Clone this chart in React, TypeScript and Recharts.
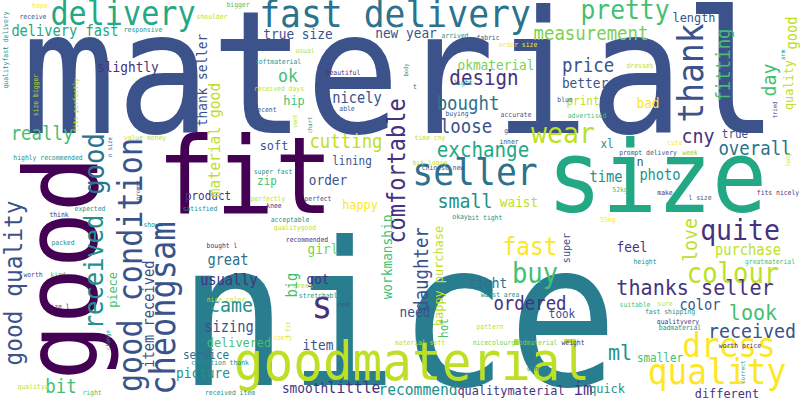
import { Scatter, ScatterChart, XAxis, YAxis } from "recharts";

// viridis-ish palette used by the word cloud
const C = {
  p0: "#440154",
  p1: "#46327e",
  b2: "#3b528b",
  b3: "#365c8d",
  t4: "#2c728e",
  t5: "#21918c",
  g6: "#22a884",
  g7: "#44bf70",
  g8: "#7ad151",
  y9: "#bddf26",
  y10: "#fde725",
};

// horizontal words: [text, centre x, baseline y, font size, colour]
const H_WORDS: [string, number, number, number, string][] = [
  ["material", 400, 133, 172, C.b2],
  ["nice", 398, 385, 200, "#287d8e"],
  ["fit", 245, 213, 107, C.p0],
  ["size", 657, 212, 100, C.g6],
  ["goodmaterial", 412, 380, 54, C.y9],
  ["fast delivery", 395, 27, 38, C.t4],
  ["delivery", 123, 25, 33, C.g6],
  ["quality", 717, 384, 36, C.y10],
  ["dress", 729, 357, 34, C.y10],
  ["pretty", 625, 19, 27, C.g7],
  ["length", 694, 22, 13, C.b2],
  ["measurement", 591, 40, 19, C.g8],
  ["okmaterial", 496, 70, 14, C.g8],
  ["price", 588, 72, 19, C.b2],
  ["design", 484, 85, 21, C.p1],
  ["better", 585, 88, 14, C.b2],
  ["bad", 648, 108, 14, C.y10],
  ["print", 583, 105, 12, C.y9],
  ["bought", 468, 110, 19, C.t4],
  ["loose", 466, 133, 19, C.b2],
  ["wear", 563, 143, 29, C.y9],
  ["cny", 698, 143, 20, C.p1],
  ["true", 735, 138, 12, C.b2],
  ["overall", 755, 155, 19, C.t4],
  ["xl", 607, 148, 12, C.t5],
  ["exchange", 483, 157, 21, C.g6],
  ["n", 640, 166, 13, C.b2],
  ["seller", 475, 185, 38, C.t4],
  ["time", 606, 182, 15, C.t5],
  ["photo", 660, 180, 15, C.t5],
  ["small", 465, 208, 20, C.t5],
  ["waist", 519, 207, 14, C.y9],
  ["need", 415, 317, 14, C.b2],
  ["quite", 740, 240, 29, C.p1],
  ["fast", 530, 255, 25, C.y10],
  ["feel", 632, 252, 14, C.p1],
  ["purchase", 748, 255, 15, C.y9],
  ["buy", 535, 283, 28, C.g7],
  ["colour", 733, 283, 28, C.y9],
  ["tight", 488, 288, 14, C.t4],
  ["thanks seller", 695, 295, 22, C.p1],
  ["ordered", 530, 310, 19, C.p1],
  ["look", 753, 320, 22, C.g7],
  ["color", 700, 310, 15, C.b2],
  ["took", 562, 318, 12, C.b2],
  ["received", 752, 338, 20, C.b2],
  ["ml", 620, 360, 22, C.t5],
  ["smaller", 660, 362, 12, C.g7],
  ["qualitymaterial", 511, 395, 13, C.p1],
  ["quick", 607, 393, 13, C.t5],
  ["im", 583, 395, 17, C.p1],
  ["different", 727, 398, 13, C.p1],
  ["recommend", 418, 395, 16, C.t5],
  ["little", 354, 393, 16, C.p1],
  ["smooth", 305, 393, 14, C.p1],
  ["happy", 360, 209, 13, C.y10],
  ["bit", 61, 393, 19, C.g7],
  ["great", 228, 265, 15, C.t4],
  ["girl", 323, 254, 14, C.g8],
  ["usually", 229, 285, 15, C.p1],
  ["got", 318, 284, 14, C.p1],
  ["came", 231, 312, 20, C.t5],
  ["sizing", 229, 332, 15, C.b2],
  ["delivered", 239, 347, 13, C.g7],
  ["item", 318, 350, 14, C.b2],
  ["service", 206, 359, 12, C.t4],
  ["picture", 203, 378, 14, C.t5],
  ["s", 322, 318, 38, C.p1],
  ["delivery fast", 65, 36, 15, C.g6],
  ["true size", 298, 39, 14, C.b2],
  ["new year", 406, 38, 14, C.b2],
  ["slightly", 128, 72, 14, C.p1],
  ["ok", 288, 82, 18, C.g7],
  ["hip", 294, 105, 13, C.g7],
  ["nicely", 357, 103, 15, C.b2],
  ["really", 42, 140, 19, C.g7],
  ["cutting", 346, 148, 19, C.y9],
  ["soft", 274, 150, 13, C.b2],
  ["lining", 352, 165, 12, C.b2],
  ["order", 328, 185, 14, C.b2],
  ["zip", 267, 185, 12, C.g7],
  ["product", 208, 200, 12, C.p1],
  // small words
  ["hope", 40, 8, 7, C.y10],
  ["receive", 33, 19, 7, C.b2],
  ["bigger", 238, 7, 7, C.g7],
  ["shoulder", 212, 19, 7, C.y9],
  ["responsive", 143, 32, 7, C.t5],
  ["usual", 305, 53, 7, C.y9],
  ["softmaterial", 278, 64, 7, C.t5],
  ["beautiful", 343, 75, 7, C.p1],
  ["received days", 279, 91, 7, C.y9],
  ["decent", 265, 112, 7, C.b2],
  ["able", 347, 111, 7, C.b2],
  ["value money", 145, 140, 7, C.y9],
  ["highly recommended", 48, 160, 7, C.t5],
  ["super fast", 273, 174, 7, C.t5],
  ["perfectly", 268, 201, 7, C.y9],
  ["perfect", 318, 201, 7, C.b2],
  ["arrived", 455, 38, 7, C.t5],
  ["fabric", 488, 40, 7, C.b2],
  ["order size", 518, 47, 7, C.y10],
  ["dresses", 640, 68, 7, C.y9],
  ["light", 463, 85, 7, C.t5],
  ["t", 415, 89, 7, C.t4],
  ["blue", 565, 102, 7, C.b2],
  ["buying", 457, 116, 7, C.b2],
  ["accurate", 516, 117, 7, C.b2],
  ["advertised", 587, 118, 7, C.g7],
  ["time cny", 430, 140, 7, C.y9],
  ["gd", 508, 133, 7, C.b2],
  ["inner", 509, 144, 7, C.b2],
  ["cute", 675, 145, 7, C.y10],
  ["prompt delivery", 648, 155, 7, C.b2],
  ["week", 690, 155, 7, C.g8],
  ["bit loose", 430, 165, 7, C.y9],
  ["chinese new", 443, 170, 7, C.b2],
  ["52kg", 620, 192, 7, C.g7],
  ["make", 665, 195, 7, C.p1],
  ["l size", 700, 200, 7, C.b2],
  ["fits nicely", 778, 195, 7, C.p1],
  ["okay", 460, 219, 7, C.t5],
  ["bit tight", 485, 220, 7, C.t5],
  ["55kg", 608, 222, 7, C.y10],
  ["height", 645, 264, 7, C.t5],
  ["greatmaterial", 770, 264, 7, C.g7],
  ["waist area", 500, 297, 7, C.t5],
  ["suitable", 635, 307, 7, C.g7],
  ["sure", 665, 306, 7, C.y9],
  ["fast shipping", 670, 314, 7, C.t5],
  ["qualityvery", 678, 324, 7, C.p1],
  ["badmaterial", 680, 330, 7, C.t5],
  ["pattern", 490, 329, 7, C.y9],
  ["nicecolourgoodmaterial", 515, 345, 7, C.g8],
  ["material soft", 420, 345, 7, C.y9],
  ["weight", 573, 345, 7, C.p1],
  ["worth price", 740, 348, 7, C.p1],
  ["school", 538, 371, 7, C.t5],
  ["satisfied", 200, 211, 7, C.t5],
  ["expected", 90, 211, 7, C.t5],
  ["think", 59, 217, 7, C.p1],
  ["knee", 274, 208, 7, C.p1],
  ["acceptable", 290, 222, 7, C.t5],
  ["qualitygood", 295, 230, 7, C.y9],
  ["recommended", 307, 242, 7, C.p1],
  ["bought l", 222, 248, 7, C.p1],
  ["packed", 63, 245, 7, C.t5],
  ["worth", 33, 277, 7, C.b2],
  ["kind", 58, 277, 7, C.g7],
  ["shown", 153, 227, 7, C.t5],
  ["green", 303, 288, 7, C.y9],
  ["stretchable", 320, 298, 7, C.t5],
  ["red", 343, 307, 7, C.b2],
  ["nice color", 226, 302, 7, C.y9],
  ["comfy", 283, 340, 7, C.y10],
  ["condition thank", 220, 365, 7, C.t5],
  ["received item", 230, 395, 7, C.t5],
  ["size l", 58, 309, 7, C.p1],
  ["qualitya", 33, 389, 7, C.y9],
  ["right", 92, 395, 7, C.g7],
];

// vertical words (read bottom to top): [text, baseline x, centre y, font size, colour]
const V_WORDS: [string, number, number, number, string][] = [
  ["good", 97, 268, 102, C.p0],
  ["thank", 703, 73, 36, C.b2],
  ["fitting", 730, 65, 19, C.g7],
  ["good", 797, 33, 15, C.y9],
  ["quality", 793, 85, 13, C.y9],
  ["day", 776, 80, 20, C.g7],
  ["comfortable", 405, 171, 24, C.p1],
  ["daughter", 428, 269, 19, C.b2],
  ["happy purchase", 443, 276, 13, C.y9],
  ["hot", 448, 328, 12, C.g7],
  ["love", 697, 240, 20, C.y9],
  ["super", 570, 248, 11, C.b2],
  ["good quality", 22, 283, 25, C.b2],
  ["received", 103, 272, 26, C.t5],
  ["good condition", 142, 265, 33, C.b2],
  ["cheongsam", 175, 308, 35, C.b2],
  ["item received", 154, 314, 15, C.b2],
  ["piece", 117, 290, 13, C.g7],
  ["big", 297, 285, 15, C.g7],
  ["workmanship", 392, 257, 14, C.g7],
  ["thank seller", 207, 80, 14, C.b2],
  ["material good", 220, 140, 16, C.y9],
  ["good", 104, 164, 28, C.t4],
  ["qualityfast delivery", 8, 50, 7, C.t5],
  ["size bigger", 38, 95, 7, C.y9],
  ["fits perfectly", 78, 105, 7, C.y9],
  ["n size", 112, 147, 6, C.b2],
  ["prompt", 140, 190, 6, C.b2],
  ["want", 297, 121, 6, C.y9],
  ["chart", 312, 125, 6, C.t5],
  ["body", 408, 70, 6, C.t5],
  ["arm", 785, 55, 6, C.t5],
  ["tried", 777, 110, 6, C.p1],
  ["long", 790, 160, 6, C.y9],
  ["change", 110, 340, 6, C.t5],
  ["l fit", 290, 330, 6, C.y9],
  ["correct", 745, 372, 6, C.t5],
];

const data = [
  ...H_WORDS.map(([text, x, y, size, color]) => ({ text, x, y, size, color, rot: 0 })),
  ...V_WORDS.map(([text, x, y, size, color]) => ({ text, x, y, size, color, rot: -90 })),
];

function Word(props: any) {
  const { cx, cy, payload } = props;
  const w = payload.size * 0.55 * payload.text.length;
  return (
    <text
      x={cx}
      y={cy}
      fontSize={payload.size}
      fill={payload.color}
      textAnchor="middle"
      textLength={w}
      lengthAdjust="spacingAndGlyphs"
      fontFamily="'DejaVu Sans Mono', monospace"
      transform={payload.rot ? `rotate(${payload.rot} ${cx} ${cy})` : undefined}
    >
      {payload.text}
    </text>
  );
}

export default function App() {
  return (
    <div style={{ position: "absolute", left: 0, top: 0, width: 800, height: 400, background: "#fff", overflow: "hidden" }}>
      <ScatterChart width={800} height={400} margin={{ top: 0, right: 0, bottom: 0, left: 0 }}>
        <XAxis type="number" dataKey="x" domain={[0, 800]} hide />
        <YAxis type="number" dataKey="y" domain={[0, 400]} reversed hide />
        <Scatter data={data} shape={Word} isAnimationActive={false} />
      </ScatterChart>
    </div>
  );
}
